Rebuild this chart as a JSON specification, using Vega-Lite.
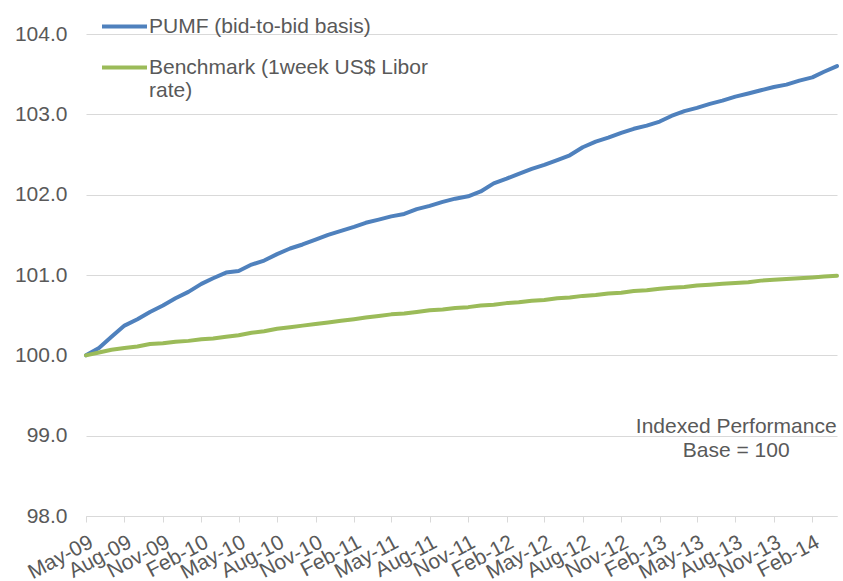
{
  "$schema": "https://vega.github.io/schema/vega-lite/v6.json",
  "width": 751,
  "height": 482,
  "autosize": {"type": "none"},
  "padding": {"left": 86, "top": 34, "right": 6, "bottom": 65},
  "background": "white",
  "config": {
    "font": "Liberation Sans",
    "view": {"stroke": null},
    "axis": {"labelFont": "Liberation Sans", "labelColor": "#595959", "labelFontSize": 21},
    "axisX": {
      "title": null,
      "grid": false,
      "labelAngle": -28,
      "labelAlign": "right",
      "labelBaseline": "top",
      "labelPadding": 9,
      "labelOverlap": false,
      "labelFlush": false,
      "domainColor": "#d9d9d9",
      "tickColor": "#d9d9d9",
      "tickSize": 6
    },
    "axisY": {
      "title": null,
      "domain": false,
      "ticks": false,
      "labelPadding": 19,
      "gridColor": "#d9d9d9",
      "gridWidth": 1
    }
  },
  "layer": [
    {
      "data": {
        "values": [
          {"date": "2009-05-01", "pumf": 100.00, "benchmark": 100.00},
          {"date": "2009-06-01", "pumf": 100.09, "benchmark": 100.035},
          {"date": "2009-07-01", "pumf": 100.23, "benchmark": 100.07},
          {"date": "2009-08-01", "pumf": 100.37, "benchmark": 100.09},
          {"date": "2009-09-01", "pumf": 100.45, "benchmark": 100.11},
          {"date": "2009-10-01", "pumf": 100.54, "benchmark": 100.14},
          {"date": "2009-11-01", "pumf": 100.62, "benchmark": 100.15},
          {"date": "2009-12-01", "pumf": 100.71, "benchmark": 100.17},
          {"date": "2010-01-01", "pumf": 100.79, "benchmark": 100.18},
          {"date": "2010-02-01", "pumf": 100.89, "benchmark": 100.20},
          {"date": "2010-03-01", "pumf": 100.96, "benchmark": 100.21},
          {"date": "2010-04-01", "pumf": 101.03, "benchmark": 100.23},
          {"date": "2010-05-01", "pumf": 101.05, "benchmark": 100.25},
          {"date": "2010-06-01", "pumf": 101.13, "benchmark": 100.28},
          {"date": "2010-07-01", "pumf": 101.18, "benchmark": 100.30},
          {"date": "2010-08-01", "pumf": 101.26, "benchmark": 100.33},
          {"date": "2010-09-01", "pumf": 101.33, "benchmark": 100.35},
          {"date": "2010-10-01", "pumf": 101.38, "benchmark": 100.37},
          {"date": "2010-11-01", "pumf": 101.44, "benchmark": 100.39},
          {"date": "2010-12-01", "pumf": 101.50, "benchmark": 100.41},
          {"date": "2011-01-01", "pumf": 101.55, "benchmark": 100.43},
          {"date": "2011-02-01", "pumf": 101.60, "benchmark": 100.45},
          {"date": "2011-03-01", "pumf": 101.65, "benchmark": 100.47},
          {"date": "2011-04-01", "pumf": 101.69, "benchmark": 100.49},
          {"date": "2011-05-01", "pumf": 101.73, "benchmark": 100.51},
          {"date": "2011-06-01", "pumf": 101.76, "benchmark": 100.52},
          {"date": "2011-07-01", "pumf": 101.82, "benchmark": 100.54},
          {"date": "2011-08-01", "pumf": 101.86, "benchmark": 100.56},
          {"date": "2011-09-01", "pumf": 101.91, "benchmark": 100.57},
          {"date": "2011-10-01", "pumf": 101.95, "benchmark": 100.59},
          {"date": "2011-11-01", "pumf": 101.98, "benchmark": 100.60},
          {"date": "2011-12-01", "pumf": 102.04, "benchmark": 100.62},
          {"date": "2012-01-01", "pumf": 102.14, "benchmark": 100.63},
          {"date": "2012-02-01", "pumf": 102.20, "benchmark": 100.65},
          {"date": "2012-03-01", "pumf": 102.26, "benchmark": 100.66},
          {"date": "2012-04-01", "pumf": 102.32, "benchmark": 100.68},
          {"date": "2012-05-01", "pumf": 102.37, "benchmark": 100.69},
          {"date": "2012-06-01", "pumf": 102.43, "benchmark": 100.71},
          {"date": "2012-07-01", "pumf": 102.49, "benchmark": 100.72},
          {"date": "2012-08-01", "pumf": 102.59, "benchmark": 100.74},
          {"date": "2012-09-01", "pumf": 102.66, "benchmark": 100.75},
          {"date": "2012-10-01", "pumf": 102.71, "benchmark": 100.77},
          {"date": "2012-11-01", "pumf": 102.77, "benchmark": 100.78},
          {"date": "2012-12-01", "pumf": 102.82, "benchmark": 100.80},
          {"date": "2013-01-01", "pumf": 102.86, "benchmark": 100.81},
          {"date": "2013-02-01", "pumf": 102.91, "benchmark": 100.83},
          {"date": "2013-03-01", "pumf": 102.98, "benchmark": 100.84},
          {"date": "2013-04-01", "pumf": 103.04, "benchmark": 100.85},
          {"date": "2013-05-01", "pumf": 103.08, "benchmark": 100.87},
          {"date": "2013-06-01", "pumf": 103.13, "benchmark": 100.88},
          {"date": "2013-07-01", "pumf": 103.17, "benchmark": 100.89},
          {"date": "2013-08-01", "pumf": 103.22, "benchmark": 100.90},
          {"date": "2013-09-01", "pumf": 103.26, "benchmark": 100.91},
          {"date": "2013-10-01", "pumf": 103.30, "benchmark": 100.93},
          {"date": "2013-11-01", "pumf": 103.34, "benchmark": 100.94},
          {"date": "2013-12-01", "pumf": 103.37, "benchmark": 100.95},
          {"date": "2014-01-01", "pumf": 103.42, "benchmark": 100.96},
          {"date": "2014-02-01", "pumf": 103.46, "benchmark": 100.97},
          {"date": "2014-03-01", "pumf": 103.53, "benchmark": 100.98},
          {"date": "2014-04-01", "pumf": 103.60, "benchmark": 100.99}
        ]
      },
      "transform": [{"fold": ["pumf", "benchmark"], "as": ["series", "value"]}],
      "mark": {"type": "line", "strokeWidth": 4, "strokeCap": "round", "strokeJoin": "round"},
      "encoding": {
        "x": {
          "field": "date",
          "type": "temporal",
          "scale": {
            "type": "utc",
            "domain": [
              {"year": 2009, "month": 5, "date": 1, "utc": true},
              {"year": 2014, "month": 4, "date": 1, "utc": true}
            ]
          },
          "axis": {
            "labelExpr": "utcFormat(datum.value, '%b-%y')",
            "labelOverlap": false,
            "tickCount": 60,
            "values": [
              {"year": 2009, "month": 5, "date": 1, "utc": true},
              {"year": 2009, "month": 8, "date": 1, "utc": true},
              {"year": 2009, "month": 11, "date": 1, "utc": true},
              {"year": 2010, "month": 2, "date": 1, "utc": true},
              {"year": 2010, "month": 5, "date": 1, "utc": true},
              {"year": 2010, "month": 8, "date": 1, "utc": true},
              {"year": 2010, "month": 11, "date": 1, "utc": true},
              {"year": 2011, "month": 2, "date": 1, "utc": true},
              {"year": 2011, "month": 5, "date": 1, "utc": true},
              {"year": 2011, "month": 8, "date": 1, "utc": true},
              {"year": 2011, "month": 11, "date": 1, "utc": true},
              {"year": 2012, "month": 2, "date": 1, "utc": true},
              {"year": 2012, "month": 5, "date": 1, "utc": true},
              {"year": 2012, "month": 8, "date": 1, "utc": true},
              {"year": 2012, "month": 11, "date": 1, "utc": true},
              {"year": 2013, "month": 2, "date": 1, "utc": true},
              {"year": 2013, "month": 5, "date": 1, "utc": true},
              {"year": 2013, "month": 8, "date": 1, "utc": true},
              {"year": 2013, "month": 11, "date": 1, "utc": true},
              {"year": 2014, "month": 2, "date": 1, "utc": true}
            ]
          }
        },
        "y": {
          "field": "value",
          "type": "quantitative",
          "scale": {"domain": [98, 104], "nice": false, "zero": false},
          "axis": {
            "values": [98, 99, 100, 101, 102, 103, 104],
            "format": ".1f"
          }
        },
        "color": {
          "field": "series",
          "type": "nominal",
          "scale": {"domain": ["pumf", "benchmark"], "range": ["#4F81BD", "#9BBB59"]},
          "legend": {
            "title": null,
            "orient": "none",
            "legendX": 14,
            "legendY": -32,
            "padding": 0,
            "symbolType": "stroke",
            "symbolSize": 2025,
            "symbolStrokeWidth": 4,
            "labelFont": "Liberation Sans",
            "labelFontSize": 21,
            "labelColor": "#595959",
            "labelLimit": 400,
            "labelOffset": 0,
            "labelBaseline": "middle",
            "labelLineHeight": 24,
            "rowPadding": 6,
            "labelExpr": "datum.value == 'benchmark' ? ['Benchmark (1week US$ Libor', 'rate)'] : 'PUMF (bid-to-bid basis)'"
          }
        }
      }
    },
    {
      "data": {"values": [{"line1": "Indexed Performance", "line2": "Base = 100"}]},
      "mark": {"type": "text", "font": "Liberation Sans", "fontSize": 21, "color": "#595959", "align": "center", "baseline": "middle", "lineHeight": 24},
      "encoding": {
        "x": {"datum": {"year": 2013, "month": 8, "date": 3, "utc": true}, "type": "temporal"},
        "y": {"datum": 99.11, "type": "quantitative"},
        "text": {"value": ["Indexed Performance", "Base = 100"]}
      }
    }
  ]
}
